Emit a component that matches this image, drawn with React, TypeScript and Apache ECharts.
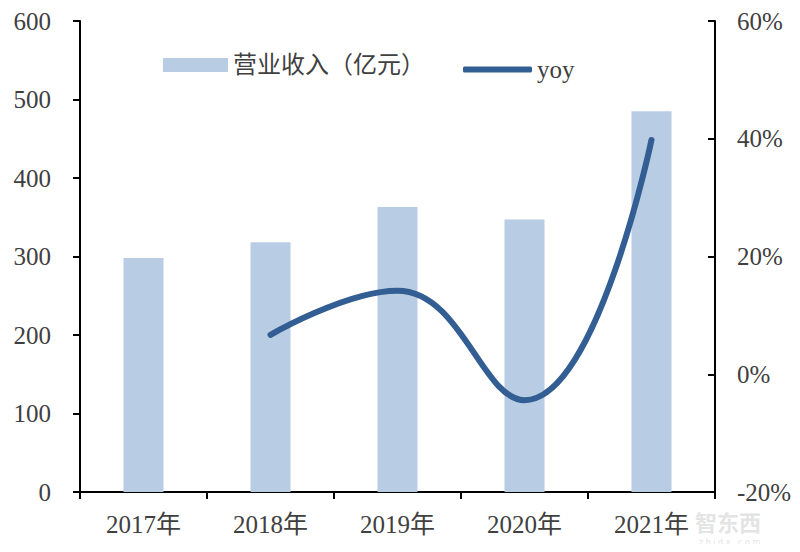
import React, { useEffect, useRef } from "react";
import * as echarts from "echarts";

const categories = ["2017年", "2018年", "2019年", "2020年", "2021年"];
const revenue = [298, 318, 363, 347, 485];
const yoy = [null, 6.7, 14.2, -4.4, 39.8];
const seriesNames = ["营业收入（亿元）", "yoy"];

const FONT = "'Liberation Serif', 'Noto Sans CJK SC', serif";
const TXT = "#404040";

export default function App() {
  const ref = useRef<HTMLDivElement>(null);
  useEffect(() => {
    if (!ref.current) return;
    const chart = echarts.init(ref.current, null, { renderer: "svg" });
    chart.setOption({
      animation: false,
      backgroundColor: "#ffffff",
      textStyle: { fontFamily: FONT, color: TXT },
      grid: { left: 80, right: 85, top: 21, bottom: 60, containLabel: false },
      legend: [
        {
          data: [seriesNames[0]],
          left: 163,
          top: 53,
          padding: 0,
          itemWidth: 65,
          itemHeight: 14,
          icon: "rect",
          textStyle: { fontFamily: FONT, fontSize: 24, color: TXT },
        },
        {
          data: [seriesNames[1]],
          left: 463,
          top: 57,
          padding: 0,
          itemWidth: 69,
          itemHeight: 6,
          icon: "roundRect",
          textStyle: { fontFamily: FONT, fontSize: 25, color: TXT },
        },
      ],
      xAxis: {
        type: "category",
        data: categories,
        axisLine: { show: true, lineStyle: { color: "#000", width: 2 } },
        axisTick: { show: true, alignWithLabel: false, length: 7, lineStyle: { color: "#000", width: 2 } },
        axisLabel: { fontFamily: FONT, fontSize: 25, color: TXT, margin: 20 },
        splitLine: { show: false },
      },
      yAxis: [
        {
          type: "value",
          min: 0,
          max: 600,
          interval: 100,
          axisLine: { show: true, lineStyle: { color: "#000", width: 2 } },
          axisTick: { show: true, inside: false, length: 7, lineStyle: { color: "#000", width: 2 } },
          axisLabel: { fontFamily: FONT, fontSize: 25, color: TXT, margin: 29 },
          splitLine: { show: false },
        },
        {
          type: "value",
          min: -20,
          max: 60,
          interval: 20,
          position: "right",
          axisLine: { show: true, lineStyle: { color: "#000", width: 2 } },
          axisTick: { show: true, inside: true, length: 7, lineStyle: { color: "#000", width: 2 } },
          axisLabel: { fontFamily: FONT, fontSize: 25, color: TXT, margin: 22, formatter: "{value}%" },
          splitLine: { show: false },
        },
      ],
      series: [
        {
          name: seriesNames[0],
          type: "bar",
          data: revenue,
          barWidth: 40,
          itemStyle: { color: "#B8CCE4" },
          yAxisIndex: 0,
        },
        {
          name: seriesNames[1],
          type: "line",
          data: yoy,
          yAxisIndex: 1,
          smooth: 0.45,
          symbol: "none",
          lineStyle: { color: "#335E93", width: 6, cap: "round" },
          itemStyle: { color: "#335E93" },
        },
      ],
      graphic: [
        {
          type: "text",
          left: 695,
          top: 510,
          style: { text: "智东西", fontSize: 22, fontWeight: "bold", fill: "#e4e4e4", fontFamily: "'Noto Sans CJK SC', sans-serif" },
          silent: true,
        },
        {
          type: "text",
          left: 699,
          top: 538,
          style: { text: "z h i d x . c o m", fontSize: 8, fill: "#e4e4e4", fontFamily: "'DejaVu Sans', sans-serif" },
          silent: true,
        },
      ],
    });
    return () => chart.dispose();
  }, []);
  return <div ref={ref} style={{ width: 800, height: 552, margin: -8 }} />;
}
